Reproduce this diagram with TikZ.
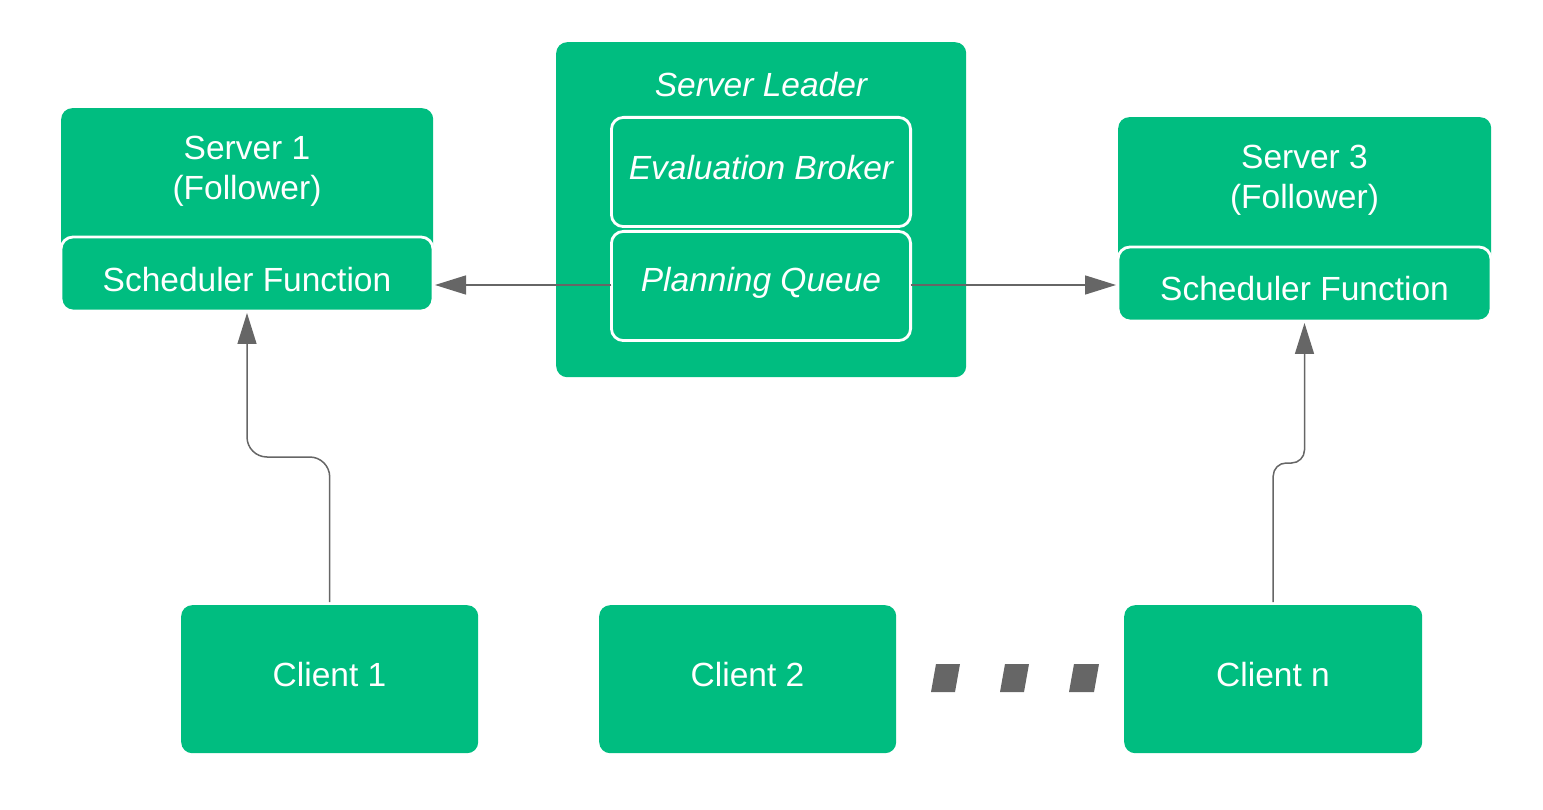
\documentclass[tikz,border=0pt]{standalone}
\usepackage{fontspec}
\setmainfont{Liberation Sans}
\usetikzlibrary{arrows.meta}
\definecolor{boxgreen}{HTML}{00BD80}
\definecolor{linegray}{HTML}{666666}
\tikzset{
  gbox/.style={fill=boxgreen, draw=none, rounded corners=11pt, anchor=north west, inner sep=0pt},
  subbox/.style={fill=boxgreen, draw=white, line width=2.8pt, rounded corners=12pt, anchor=north west, inner sep=0pt, outer sep=0pt},
  txt/.style={text=white, anchor=base, inner sep=0pt, font=\fontsize{33.5}{40}\selectfont},
  itxt/.style={txt, font=\fontsize{33.5}{40}\selectfont\itshape},
  conn/.style={draw=linegray, line width=1.5pt, -{Triangle[length=31pt,width=19pt]}},
  dotshape/.style={fill=linegray, draw=none},
}
\begin{document}
\begin{tikzpicture}[x=1pt,y=-1pt]
\useasboundingbox (0,0) rectangle (1543,810);

% Server 1
\node[gbox, minimum width=372pt, minimum height=162pt] (s1) at (61,108) {};
\node[subbox, minimum width=372pt, minimum height=74pt] (s1sf) at (61,237) {};
\node[txt] (s1a) at (247,160) {Server 1};
\node[txt] (s1b) at (247,200) {(Follower)};
\node[txt] (s1c) at (247,292) {Scheduler Function};

% Server Leader
\node[gbox, minimum width=410pt, minimum height=335pt] (lead) at (556,42) {};
\node[itxt] (leadt) at (761,97) {Server Leader};
\node[subbox, minimum width=299.2pt, minimum height=109.2pt] (eb) at (611.4,117.4) {};
\node[subbox, minimum width=299.2pt, minimum height=109.2pt] (pq) at (611.4,231.4) {};
\node[itxt] (ebt) at (761,180) {Evaluation Broker};
\node[itxt] (pqt) at (761,292) {Planning Queue};

% Server 3
\node[gbox, minimum width=373pt, minimum height=163pt] (s3) at (1118,117) {};
\node[subbox, minimum width=373pt, minimum height=74pt] (s3sf) at (1118,247) {};
\node[txt] (s3a) at (1304.5,169) {Server 3};
\node[txt] (s3b) at (1304.5,209) {(Follower)};
\node[txt] (s3c) at (1304.5,301) {Scheduler Function};

% Clients
\node[gbox, minimum width=297pt, minimum height=148pt] (c1) at (181,605) {};
\node[txt] (c1t) at (329.5,686) {Client 1};
\node[gbox, minimum width=297pt, minimum height=148pt] (c2) at (599,605) {};
\node[txt] (c2t) at (747.5,686) {Client 2};
\node[gbox, minimum width=298pt, minimum height=148pt] (cn) at (1124,605) {};
\node[txt] (cnt) at (1273,686) {Client n};

% dots
\fill[dotshape] (931,692) -- (955,692) -- (960,664) -- (936,664) -- cycle;
\fill[dotshape] (1000,692) -- (1024,692) -- (1029,664) -- (1005,664) -- cycle;
\fill[dotshape] (1069,692) -- (1094,692) -- (1099,664) -- (1074,664) -- cycle;

% connectors
\draw[conn, shorten >=2pt] (pq.west |- 0,285) -- (s1sf.east |- 0,285);
\draw[conn, shorten >=2pt] (pq.east |- 0,285) -- (s3sf.west |- 0,285);
\draw[conn, rounded corners=20pt, shorten <=3pt, shorten >=2pt]
  (c1.north) -- (c1.north |- 0,457) -- (s1sf.south |- 0,457) -- (s1sf.south);
\draw[conn, rounded corners=13pt, shorten <=3pt, shorten >=2pt]
  (cn.north) -- (cn.north |- 0,463) -- (s3sf.south |- 0,463) -- (s3sf.south);
\end{tikzpicture}
\end{document}
